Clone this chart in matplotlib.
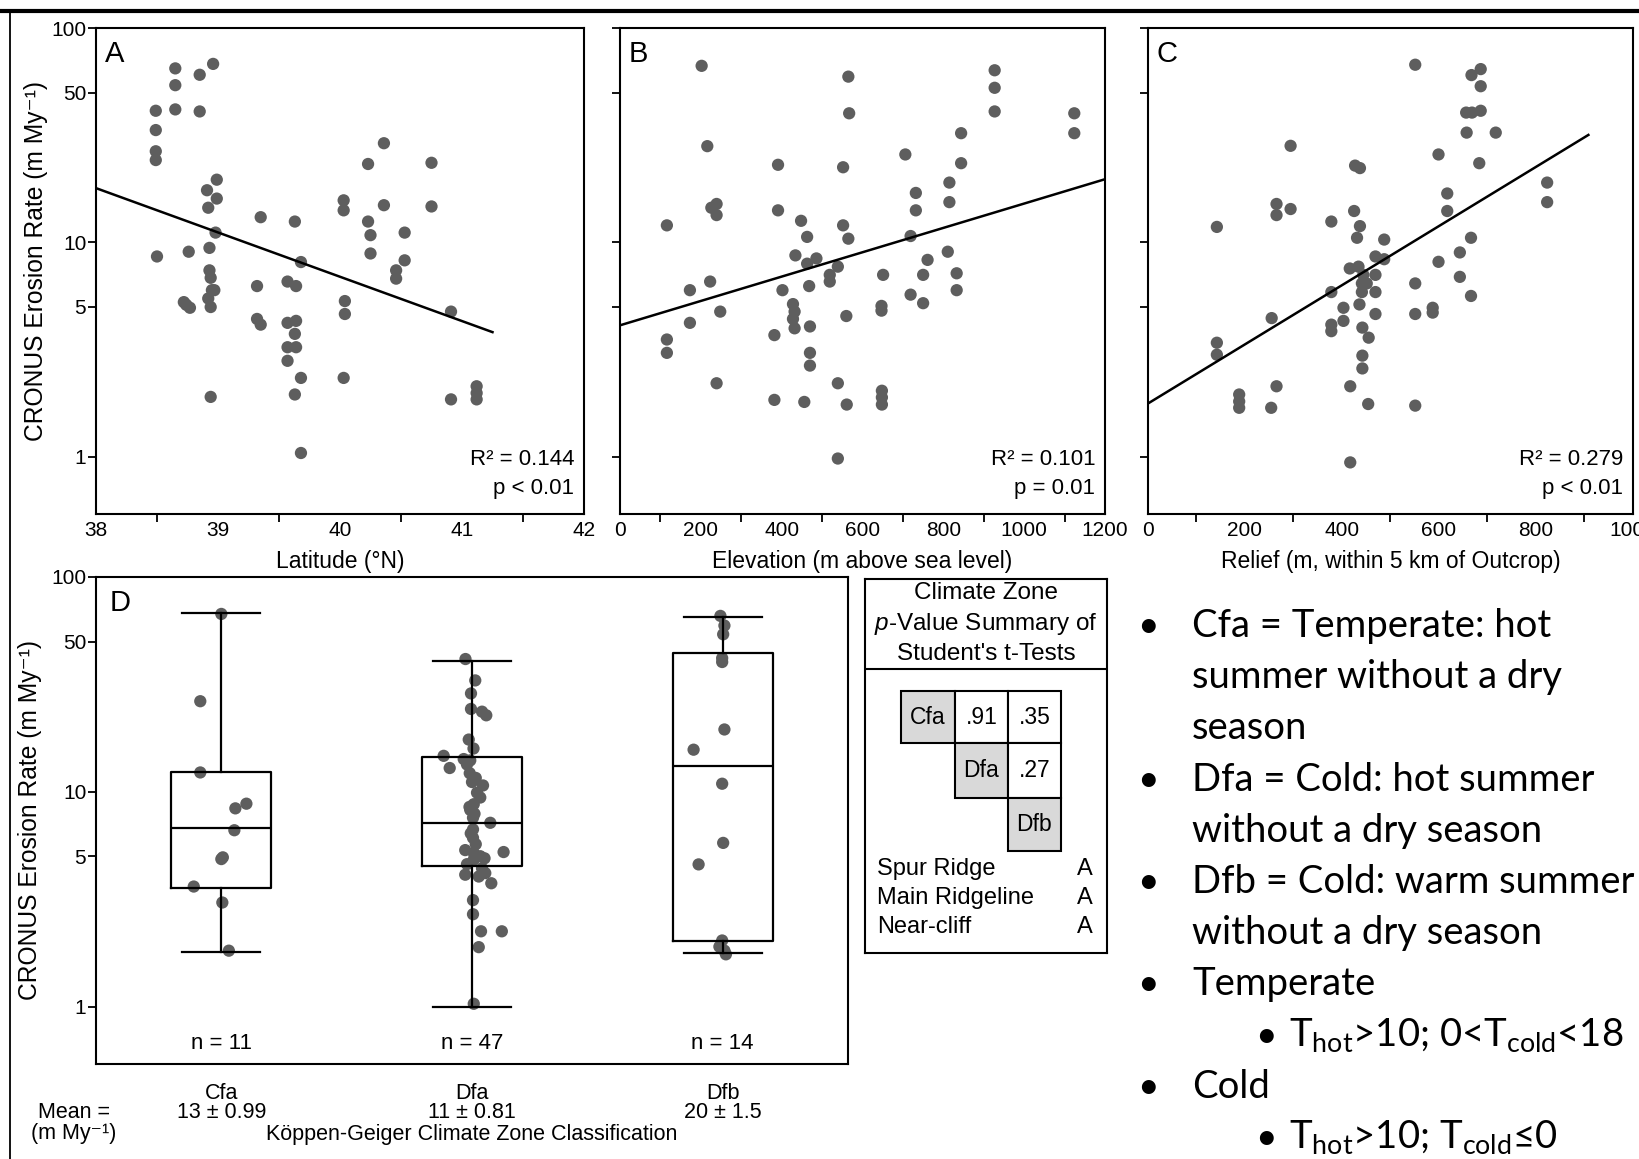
import numpy as np
import matplotlib
matplotlib.use('Agg')
import matplotlib.pyplot as plt
from matplotlib.lines import Line2D
from matplotlib.patches import Rectangle
from matplotlib.ticker import NullLocator

plt.rcParams['font.family'] = ['Liberation Sans', 'DejaVu Sans']
plt.rcParams['mathtext.fontset'] = 'custom'
plt.rcParams['mathtext.rm'] = 'Lato'
plt.rcParams['mathtext.it'] = 'Liberation Sans:italic'

# ---------------- dados ----------------
# painel A: latitude x taxa de erosao
lat_A = [38.49, 38.49, 38.49, 38.49, 38.50, 38.65, 38.65, 38.65, 38.85, 38.85,
         38.96, 38.99, 38.91, 38.99, 38.92, 38.98, 38.93, 38.76, 38.93, 38.94,
         38.95, 38.97, 38.92, 38.94, 38.72, 38.74, 38.77, 38.94, 39.35, 39.32,
         39.32, 39.35, 39.63, 39.68, 39.57, 39.64, 39.57, 39.64, 39.63, 39.57,
         39.64, 39.57, 39.68, 39.63, 39.68, 40.03, 40.03, 40.04, 40.04, 40.03,
         40.23, 40.36, 40.36, 40.23, 40.25, 40.25, 40.53, 40.53, 40.46, 40.46,
         40.75, 40.75, 40.91, 40.91, 41.12, 41.12, 41.12]
taxa_A = [41.1, 33.4, 26.6, 24.2, 8.59, 64.8, 54.1, 41.7, 60.5, 40.8,
          68.0, 19.6, 17.5, 16.0, 14.5, 11.1, 9.42, 9.04, 7.40, 6.83,
          5.98, 5.98, 5.47, 4.99, 5.26, 5.11, 4.95, 1.90, 13.1, 6.25,
          4.39, 4.13, 12.5, 8.09, 6.56, 6.25, 4.21, 4.30, 3.74, 3.24,
          3.24, 2.80, 2.33, 1.95, 1.04, 15.7, 14.1, 5.32, 4.63, 2.33,
          23.2, 29.0, 14.9, 12.5, 10.8, 8.87, 11.1, 8.24, 7.40, 6.77,
          23.5, 14.7, 4.75, 1.85, 2.13, 1.98, 1.85]
retaA_x = [38.0, 41.25]
retaA_y = [17.9, 3.81]

# painel B: elevacao
elev_B = [202, 216, 116, 391, 391, 226, 239, 239, 223, 173,
          173, 248, 116, 116, 239, 382, 382, 402, 448, 463,
          434, 486, 463, 468, 428, 432, 428, 432, 470, 470,
          470, 456, 552, 565, 567, 552, 565, 539, 519, 519,
          560, 539, 561, 539, 651, 647, 647, 648, 648, 648,
          706, 732, 732, 719, 719, 750, 761, 750, 815, 815,
          811, 833, 833, 844, 844, 927, 927, 927, 1124, 1124]
taxa_B = [66.6, 28.1, 12.0, 23.0, 14.1, 14.5, 15.1, 13.4, 6.56, 5.98,
          4.21, 4.75, 3.52, 3.05, 2.20, 1.84, 3.69, 5.98, 12.6, 10.6,
          8.69, 8.41, 7.95, 6.25, 5.15, 4.75, 4.39, 3.97, 4.05, 3.05,
          2.66, 1.80, 22.4, 59.3, 40.0, 12.0, 10.4, 7.70, 7.05, 6.56,
          4.53, 2.20, 1.75, 0.98, 7.05, 5.05, 4.80, 2.03, 1.89, 1.75,
          25.7, 17.0, 14.1, 10.7, 5.70, 7.05, 8.28, 5.20, 19.0, 15.4,
          9.04, 7.17, 5.98, 32.3, 23.4, 63.5, 52.6, 40.8, 40.0, 32.3]
retaB_x = [0, 1200]
retaB_y = [4.10, 19.7]

# painel C: relevo
relevo_C = [551, 667, 686, 686, 656, 668, 686, 657, 717, 599,
            683, 427, 437, 294, 823, 823, 617, 617, 265, 265,
            294, 142, 378, 425, 437, 431, 487, 666, 469, 487,
            599, 643, 416, 434, 444, 469, 441, 451, 441, 469,
            378, 551, 643, 436, 469, 403, 403, 378, 378, 442,
            455, 255, 551, 587, 587, 666, 142, 142, 442, 442,
            265, 417, 188, 188, 188, 254, 454, 551, 417]
taxa_C = [67.4, 60.3, 64.3, 53.5, 40.3, 40.3, 41.1, 32.5, 32.5, 25.7,
          23.4, 22.8, 22.2, 28.2, 19.0, 15.4, 16.9, 14.0, 15.1, 13.4,
          14.3, 11.8, 12.5, 14.0, 11.9, 10.5, 10.3, 10.5, 8.59, 8.34,
          8.11, 8.97, 7.55, 7.70, 7.05, 7.05, 6.43, 6.43, 5.86, 5.86,
          5.86, 6.43, 6.90, 5.13, 4.63, 4.95, 4.30, 4.13, 3.85, 4.00,
          3.59, 4.43, 4.63, 4.95, 4.70, 5.62, 3.40, 2.99, 2.96, 2.58,
          2.13, 2.13, 1.95, 1.81, 1.69, 1.69, 1.76, 1.73, 0.94]
retaC_x = [0, 908]
retaC_y = [1.77, 31.7]

r2_txt = ['R\u00b2 = 0.144', 'R\u00b2 = 0.101', 'R\u00b2 = 0.279']
p_txt = ['p < 0.01', 'p = 0.01', 'p < 0.01']

# painel D: zonas climaticas
zonas = ['Cfa', 'Dfa', 'Dfb']
medias = ['13 \u00b1 0.99', '11 \u00b1 0.81', '20 \u00b1 1.5']
n_txt = ['n = 11', 'n = 47', 'n = 14']
caixa_whislo = [1.80, 1.00, 1.77]
caixa_q1 = [3.58, 4.49, 2.02]
caixa_med = [6.76, 7.19, 13.2]
caixa_q3 = [12.3, 14.5, 44.4]
caixa_whishi = [68.0, 40.8, 65.4]

pts_Cfa = [67.3, 26.4, 12.3, 8.37, 8.80, 6.62, 4.86, 4.95, 3.62, 3.05, 1.82]
desl_Cfa = [0.0, -0.084, -0.084, 0.056, 0.10, 0.052, 0.0, 0.006, -0.11, 0.004, 0.03]
pts_Dfa = [41.5, 33.0, 28.7, 24.3, 23.6, 22.7, 17.5, 15.9, 14.7, 14.2,
           14.0, 12.9, 12.2, 11.1, 10.7, 9.40, 8.75, 8.23, 7.57, 7.17,
           6.68, 6.10, 5.35, 5.19, 5.01, 5.24, 4.83, 4.11, 4.03, 4.18,
           3.75, 3.13, 2.69, 2.24, 2.24, 1.89, 1.03, 9.9, 8.5, 7.9,
           6.4, 5.7, 4.6, 4.4, 4.9, 11.6, 13.4]
desl_Dfa = [-0.026, 0.013, -0.004, -0.004, 0.040, 0.057, -0.013, 0.006, -0.113, -0.033,
            -0.007, -0.089, -0.009, 0.0, 0.044, 0.033, 0.007, -0.007, 0.004, 0.073,
            0.004, 0.004, -0.027, 0.007, 0.033, 0.126, 0.007, -0.027, 0.027, 0.053,
            0.077, 0.004, 0.004, 0.036, 0.119, 0.027, 0.007, 0.02, -0.01, 0.01,
            -0.005, 0.015, -0.02, 0.04, 0.05, 0.015, -0.02]
pts_Dfb = [65.9, 59.4, 54.1, 41.9, 40.2, 19.5, 15.7, 10.9, 5.78, 4.59, 2.03, 1.90, 1.82, 1.75]
desl_Dfb = [-0.009, 0.007, 0.002, -0.002, -0.002, 0.007, -0.116, -0.002, 0.002, -0.096,
            -0.002, -0.013, 0.007, 0.013]

# tabela de p-valores
pvals = [['.91', '.35'], ['.27']]
locais = ['Spur Ridge', 'Main Ridgeline', 'Near-cliff']
grupo_local = ['A', 'A', 'A']

# texto em topicos
topicos = [
    (0, True, 'Cfa = Temperate: hot'),
    (0, False, 'summer without a dry'),
    (0, False, 'season'),
    (0, True, 'Dfa = Cold: hot summer'),
    (0, False, 'without a dry season'),
    (0, True, 'Dfb = Cold: warm summer'),
    (0, False, 'without a dry season'),
    (0, True, 'Temperate'),
    (1, True, 'T$_{\\mathrm{hot}}$>10; 0<T$_{\\mathrm{cold}}$<18'),
    (0, True, 'Cold'),
    (1, True, 'T$_{\\mathrm{hot}}$>10; T$_{\\mathrm{cold}}$\u22640'),
]

# ---------------- figura ----------------
W, H = 1640, 1159
fig = plt.figure(figsize=(W / 100, H / 100), dpi=100)
cinza = '#5e5e5e'
ylab = 'CRONUS Erosion Rate (m My\u207b\u00b9)'


def retangulo(x0, y0, x1, y1):
    # pixels (origem em cima) -> fracao da figura
    return [x0 / W, 1 - y1 / H, (x1 - x0) / W, (y1 - y0) / H]


def eixo_log(ax, rotulos=True):
    ax.set_yscale('log')
    ax.set_ylim(0.54, 100)
    ax.set_yticks([1, 5, 10, 50, 100])
    ax.yaxis.set_minor_locator(NullLocator())
    if rotulos:
        ax.set_yticklabels(['1', '5', '10', '50', '100'])
    else:
        ax.set_yticklabels([])
    ax.tick_params(axis='y', which='major', direction='out', length=6, width=1.3,
                   pad=1, labelsize=15)
    for s in ax.spines.values():
        s.set_linewidth(1.5)


paineis = [
    (retangulo(96, 28, 584, 514), lat_A, taxa_A, retaA_x, retaA_y, (38, 42),
     [38, 39, 40, 41, 42], [38.5, 39.5, 40.5, 41.5], 'Latitude (\u00b0N)', 'A'),
    (retangulo(620, 28, 1105, 514), elev_B, taxa_B, retaB_x, retaB_y, (0, 1200),
     [0, 200, 400, 600, 800, 1000, 1200], [100, 300, 500, 700, 900, 1100],
     'Elevation (m above sea level)', 'B'),
    (retangulo(1148, 28, 1633, 514), relevo_C, taxa_C, retaC_x, retaC_y, (0, 1000),
     [0, 200, 400, 600, 800, 1000], [100, 300, 500, 700, 900],
     'Relief (m, within 5 km of Outcrop)', 'C'),
]

for i, (pos, xs, ys, rx, ry, lim, maj, mnr, xlab, letra) in enumerate(paineis):
    ax = fig.add_axes(pos)
    eixo_log(ax, rotulos=(i == 0))
    ax.scatter(xs, ys, s=78, color=cinza, edgecolors='none', zorder=3)
    ax.plot(rx, ry, color='black', lw=1.8, zorder=4)
    ax.set_xlim(*lim)
    ax.set_xticks(maj)
    ax.set_xticks(mnr, minor=True)
    ax.tick_params(axis='x', which='major', length=0, pad=5, labelsize=15)
    ax.tick_params(axis='x', which='minor', direction='out', length=6, width=1.3)
    ax.text(0.5, -0.097, xlab, transform=ax.transAxes, ha='center', va='center',
            fontsize=16.5)
    ax.text(0.018, 0.975, letra, transform=ax.transAxes, ha='left', va='top',
            fontsize=21)
    ax.text(0.98, 0.113, r2_txt[i], transform=ax.transAxes, ha='right', va='center',
            fontsize=16)
    ax.text(0.98, 0.053, p_txt[i], transform=ax.transAxes, ha='right', va='center',
            fontsize=16)
    if i == 0:
        ax.text(-0.122, 0.52, ylab, transform=ax.transAxes, rotation=90,
                ha='center', va='center', fontsize=17.7)

# painel D
axD = fig.add_axes(retangulo(96, 577, 848, 1064))
eixo_log(axD)
stats = []
for k in range(3):
    stats.append(dict(med=caixa_med[k], q1=caixa_q1[k], q3=caixa_q3[k],
                      whislo=caixa_whislo[k], whishi=caixa_whishi[k], fliers=[]))
lp = dict(color='black', lw=1.6)
axD.bxp(stats, positions=[0, 1, 2], widths=0.40, capwidths=0.31, showfliers=False,
        boxprops=lp, whiskerprops=lp, capprops=lp, medianprops=lp, zorder=3,
        manage_ticks=False)
axD.set_xlim(-0.5, 2.5)
axD.set_xticks([])
for k, (pts, desl) in enumerate([(pts_Cfa, desl_Cfa), (pts_Dfa, desl_Dfa), (pts_Dfb, desl_Dfb)]):
    axD.scatter(np.array(desl) + k, pts, s=78, color=cinza, edgecolors='none', zorder=2)
    axD.text(k, 0.043, n_txt[k], transform=axD.get_xaxis_transform(), ha='center',
             va='center', fontsize=16)
    axD.text(k, -0.060, zonas[k], transform=axD.get_xaxis_transform(), ha='center',
             va='center', fontsize=15.5)
    axD.text(k, -0.099, medias[k], transform=axD.get_xaxis_transform(), ha='center',
             va='center', fontsize=15.5)
axD.text(1, -0.144, 'K\u00f6ppen-Geiger Climate Zone Classification',
         transform=axD.get_xaxis_transform(), ha='center', va='center', fontsize=15.5)
axD.text(0.018, 0.975, 'D', transform=axD.transAxes, ha='left', va='top', fontsize=21)
axD.text(-0.088, 0.5, ylab, transform=axD.transAxes, rotation=90,
         ha='center', va='center', fontsize=17.7)
fig.text(74 / W, 1 - 1112 / H, 'Mean =', ha='center', va='center', fontsize=15.5)
fig.text(74 / W, 1 - 1134 / H, '(m My\u207b\u00b9)', ha='center', va='center', fontsize=15.5)

# tabela
tab = fig.add_axes(retangulo(865, 579, 1107, 953))
tab.set_xlim(865, 1107)
tab.set_ylim(953, 579)
tab.set_xticks([])
tab.set_yticks([])
for s in tab.spines.values():
    s.set_linewidth(1.5)
tab.plot([865, 1107], [669, 669], color='black', lw=1.5)
for yy, t in zip([593, 624, 654], ['Climate Zone', '$p$-Value Summary of', "Student's t-Tests"]):
    tab.text(986, yy, t, ha='center', va='center', fontsize=17.5)
col_x = [901, 955, 1008, 1061]
lin_y = [691, 743, 798, 851]
for i in range(3):
    for j in range(i, 3):
        cor = '#d9d9d9' if i == j else 'white'
        tab.add_patch(Rectangle((col_x[j], lin_y[i]), col_x[j + 1] - col_x[j],
                                lin_y[i + 1] - lin_y[i], facecolor=cor,
                                edgecolor='black', lw=1.5))
        rot = zonas[i] if i == j else pvals[i][j - i - 1]
        tab.text((col_x[j] + col_x[j + 1]) / 2, (lin_y[i] + lin_y[i + 1]) / 2, rot,
                 ha='center', va='center', fontsize=16.5)
for yy, nome, g in zip([869, 898, 927], locais, grupo_local):
    tab.text(877, yy, nome, ha='left', va='center', fontsize=17)
    tab.text(1085, yy, g, ha='center', va='center', fontsize=17)

# topicos a direita
base_y = 637
for k, (nivel, marca, txt) in enumerate(topicos):
    yb = 1 - (base_y + 51.2 * k) / H
    xm, xt = (1148, 1192) if nivel == 0 else (1266, 1289)
    if marca:
        fig.text(xm / W, yb, '\u2022', ha='center', va='baseline', fontsize=27,
                 family=['Lato', 'DejaVu Sans'])
    fig.text(xt / W, yb, txt, ha='left', va='baseline', fontsize=27.5,
             family=['Lato', 'DejaVu Sans'])

# moldura do slide
fig.add_artist(Line2D([0, 1], [1 - 10.5 / H] * 2, color='black', lw=3,
                      transform=fig.transFigure))
fig.add_artist(Line2D([10.5 / W] * 2, [0, 1 - 10.5 / H], color='black', lw=1.3,
                      transform=fig.transFigure))

fig.savefig('out.png', dpi=100)
